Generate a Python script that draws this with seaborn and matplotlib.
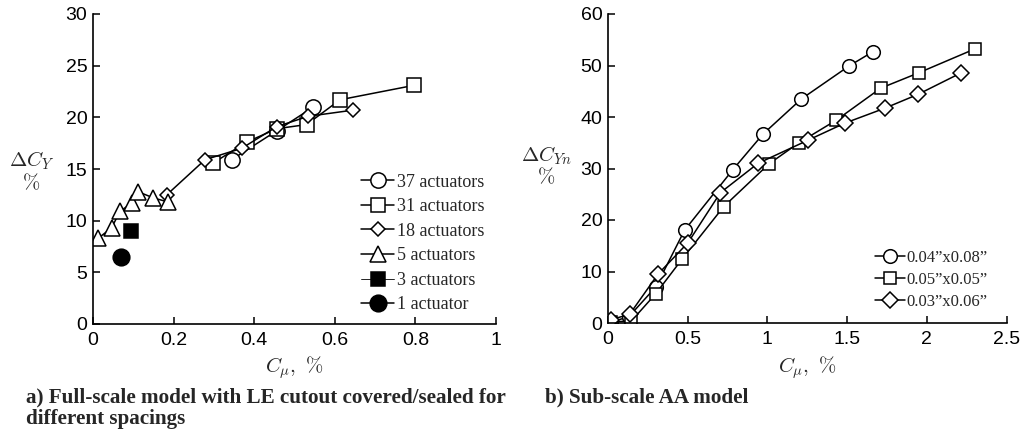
import matplotlib
matplotlib.use("Agg")
import matplotlib.pyplot as plt
import seaborn as sns
import pandas as pd

# ---------------- data: panel a ----------------
a37_x = [0.344, 0.456, 0.547]
a37_y = [15.9, 18.7, 21.0]
a31_x = [0.299, 0.381, 0.456, 0.530, 0.613, 0.797]
a31_y = [15.6, 17.6, 18.9, 19.3, 21.7, 23.1]
a18_x = [0.183, 0.278, 0.369, 0.456, 0.534, 0.646]
a18_y = [12.5, 15.9, 17.0, 19.1, 20.1, 20.7]
a5_x = [0.013, 0.046, 0.067, 0.096, 0.112, 0.150, 0.187]
a5_y = [8.3, 9.3, 10.9, 11.7, 12.8, 12.2, 11.8]
a3_x = [0.094]
a3_y = [9.0]
a1_x = [0.069]
a1_y = [6.45]

# ---------------- data: panel b ----------------
b1_x = [0.02, 0.13, 0.30, 0.48, 0.784, 0.973, 1.213, 1.512, 1.663]
b1_y = [0.2, 1.2, 7.0, 18.0, 29.8, 36.7, 43.5, 49.9, 52.7]
b2_x = [0.02, 0.147, 0.30, 0.467, 0.726, 1.01, 1.198, 1.433, 1.711, 1.951, 2.30]
b2_y = [0.2, 0.4, 5.7, 12.5, 22.6, 30.9, 35.0, 39.4, 45.6, 48.6, 53.2]
b3_x = [0.02, 0.136, 0.314, 0.502, 0.705, 0.941, 1.255, 1.485, 1.736, 1.945, 2.217]
b3_y = [0.65, 1.7, 9.5, 15.6, 25.3, 31.0, 35.5, 38.8, 41.7, 44.4, 48.6]

a_labels = ["37 actuators", "31 actuators", "18 actuators", "5 actuators", "3 actuators", "1 actuator"]
b_labels = ["0.04\u201dx0.08\u201d", "0.05\u201dx0.05\u201d", "0.03\u201dx0.06\u201d"]

a_xticks = [0, 0.2, 0.4, 0.6, 0.8, 1]
a_xticklabels = ["0", "0.2", "0.4", "0.6", "0.8", "1"]
a_yticks = [0, 5, 10, 15, 20, 25, 30]
b_xticks = [0, 0.5, 1, 1.5, 2, 2.5]
b_xticklabels = ["0", "0.5", "1", "1.5", "2", "2.5"]
b_yticks = [0, 10, 20, 30, 40, 50, 60]

sns.set_theme(style="ticks")
plt.rcParams["mathtext.fontset"] = "cm"
plt.rcParams["font.family"] = ["Liberation Sans", "DejaVu Sans"]

fig = plt.figure(figsize=(10.26, 4.33), dpi=100)
axA = fig.add_axes([93 / 1026, 1 - 324 / 433, 403 / 1026, 310 / 433])
axB = fig.add_axes([608 / 1026, 1 - 323 / 433, 398.5 / 1026, 309 / 433])

def draw(ax, xs, ys, label, marker, face, ms, lw=1.1):
    df = pd.DataFrame({"x": xs, "y": ys})
    sns.lineplot(data=df, x="x", y="y", ax=ax, estimator=None, sort=False,
                 color="black", linewidth=lw, marker=marker, markersize=ms,
                 markerfacecolor=face, markeredgecolor="black", markeredgewidth=1.1,
                 label=label)

draw(axA, a37_x, a37_y, a_labels[0], "o", "white", 11)
draw(axA, a31_x, a31_y, a_labels[1], "s", "white", 9.6)
draw(axA, a18_x, a18_y, a_labels[2], "D", "white", 7.3)
draw(axA, a5_x, a5_y, a_labels[3], "^", "white", 12)
draw(axA, a3_x, a3_y, a_labels[4], "s", "black", 9.4, lw=0.6)
draw(axA, a1_x, a1_y, a_labels[5], "o", "black", 12)

draw(axB, b1_x, b1_y, b_labels[0], "o", "white", 9.8)
draw(axB, b2_x, b2_y, b_labels[1], "s", "white", 8.5)
draw(axB, b3_x, b3_y, b_labels[2], "D", "white", 8.0)

axA.set_xlim(0, 1)
axA.set_ylim(0, 30)
axA.set_xticks(a_xticks)
axA.set_xticklabels(a_xticklabels)
axA.set_yticks(a_yticks)

axB.set_xlim(0, 2.5)
axB.set_ylim(0, 60)
axB.set_xticks(b_xticks)
axB.set_xticklabels(b_xticklabels)
axB.set_yticks(b_yticks)

for ax in (axA, axB):
    sns.despine(ax=ax)
    for s in ("left", "bottom"):
        ax.spines[s].set_linewidth(1.2)
        ax.spines[s].set_color("black")
    ax.tick_params(direction="in", length=5, width=1.1, labelsize=14, colors="black")
    ax.tick_params(axis="x", pad=6)
    ax.tick_params(axis="y", pad=4)
    ax.set_xlabel(r"$C_{\mu},\ \%$", fontsize=15, va="top")
    ax.set_ylabel("")

axA.xaxis.set_label_coords(0.5, -0.097)
axB.xaxis.set_label_coords(0.5, -0.101)

axA.text(-0.153, 0.492, r"$\Delta C_Y$" + "\n" + r"$\%$", transform=axA.transAxes,
         ha="center", va="center", fontsize=15, linespacing=1.0)
axB.text(-0.155, 0.508, r"$\Delta C_{Yn}$" + "\n" + r"$\%$", transform=axB.transAxes,
         ha="center", va="center", fontsize=15, linespacing=1.0)

axA.legend(loc="lower right", bbox_to_anchor=(0.995, 0.005), frameon=False,
           prop={"family": "Liberation Serif", "size": 13},
           handlelength=1.8, handletextpad=0.2, labelspacing=0.42, borderaxespad=0.1)
axB.legend(loc="lower right", bbox_to_anchor=(0.977, 0.01), frameon=False,
           prop={"family": "Liberation Serif", "size": 12},
           handlelength=1.8, handletextpad=0.1, labelspacing=0.35, borderaxespad=0.2)

cap = {"family": "Liberation Serif", "weight": "bold", "size": 15.2}
fig.text(26 / 1026, 1 - 402 / 433, "a) Full-scale model with LE cutout covered/sealed for",
         ha="left", va="baseline", fontdict=cap)
fig.text(26 / 1026, 1 - 424 / 433, "different spacings", ha="left", va="baseline", fontdict=cap)
fig.text(545 / 1026, 1 - 402 / 433, "b) Sub-scale AA model", ha="left", va="baseline", fontdict=cap)

fig.savefig("out.png", dpi=100)
